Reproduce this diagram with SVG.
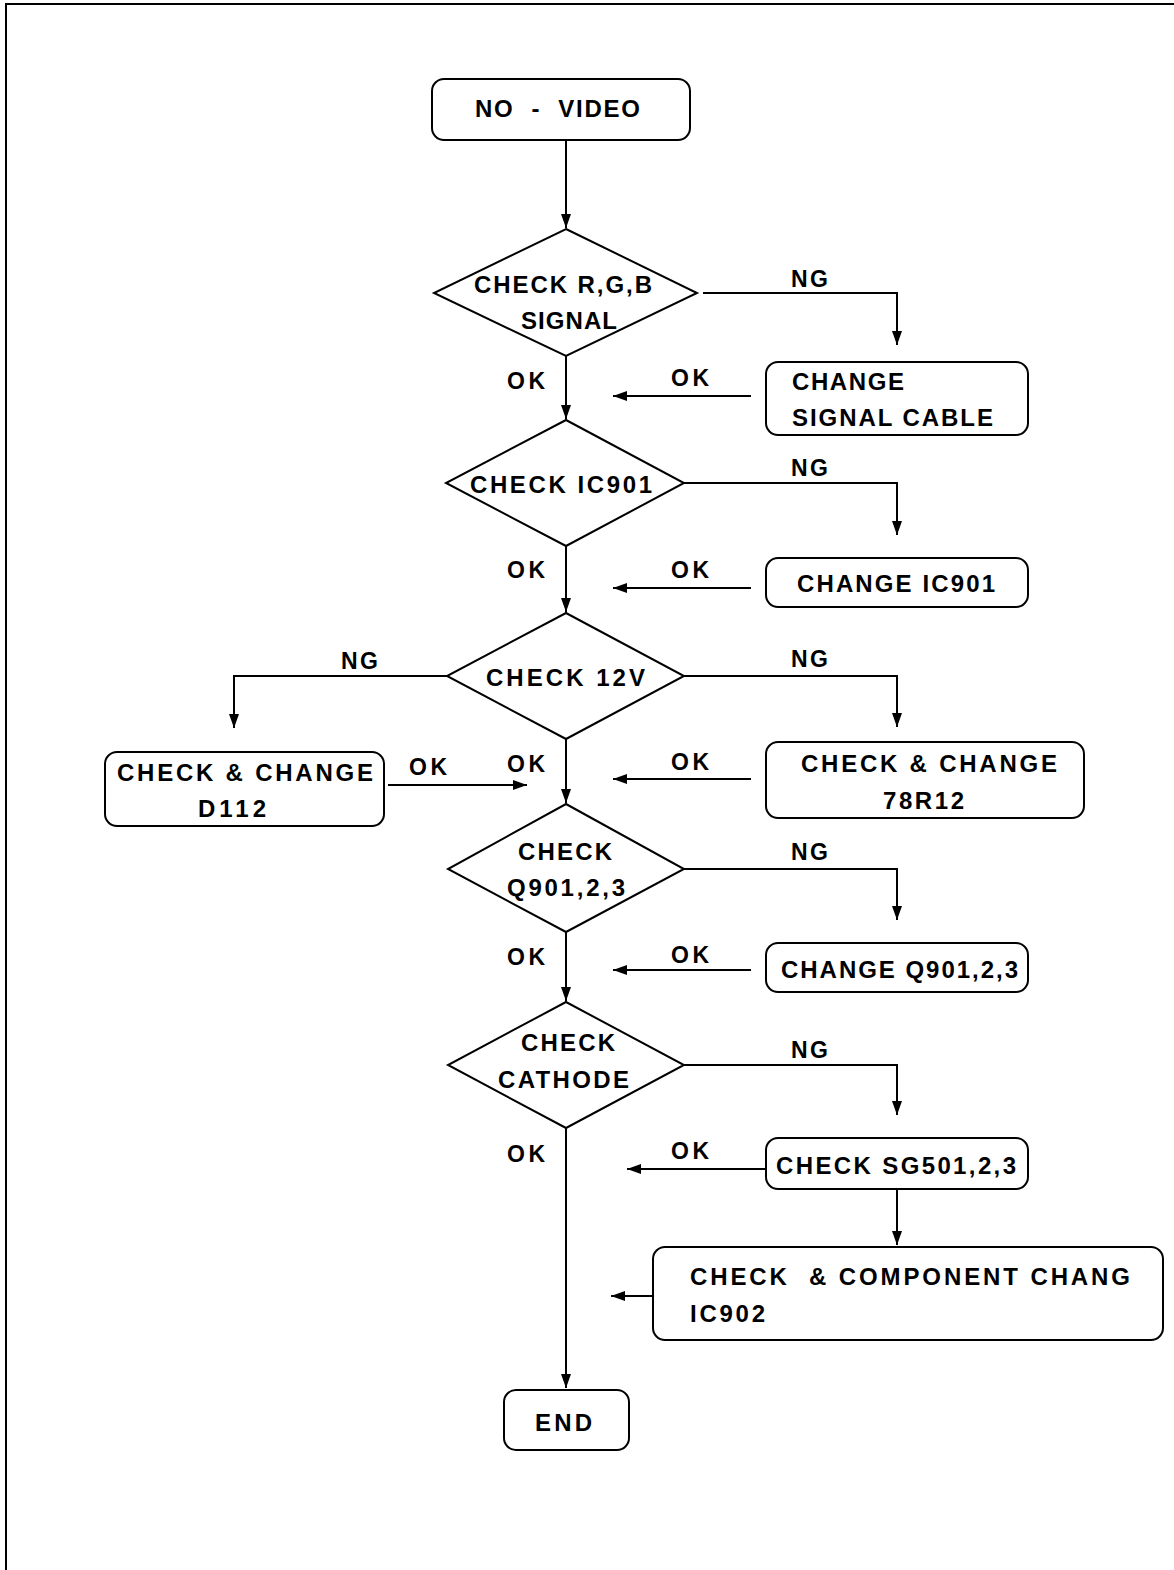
<svg xmlns="http://www.w3.org/2000/svg" width="1174" height="1570" viewBox="0 0 1174 1570">
<defs>
<marker id="ah" viewBox="0 0 14 10" refX="14" refY="5" markerWidth="14" markerHeight="10" markerUnits="userSpaceOnUse" orient="auto">
<path d="M0,0 L14,5 L0,10 Z" fill="#000"/>
</marker>
</defs>
<style>
.n{fill:#fff;stroke:#000;stroke-width:2}
.c{fill:none;stroke:#000;stroke-width:2}
.a{marker-end:url(#ah)}
text{font-family:"Liberation Sans",Arial,sans-serif;font-weight:bold;font-size:24px;fill:#000}
.l{font-size:23px}
</style>
<rect width="1174" height="1570" fill="#fff"/>
<path d="M6,1570 V4 H1174" fill="none" stroke="#000" stroke-width="2"/>
<g id="connectors">
<path class="c a" d="M566,140 V228"/>
<path class="c a" d="M703,293 H897 V345"/>
<path class="c a" d="M751,396 H613"/>
<path class="c a" d="M566,356 V419"/>
<path class="c a" d="M684,483 H897 V535"/>
<path class="c a" d="M751,588 H613"/>
<path class="c a" d="M566,546 V612"/>
<path class="c a" d="M684,676 H897 V727"/>
<path class="c a" d="M447,676 H234 V728"/>
<path class="c a" d="M388,785 H527"/>
<path class="c a" d="M751,779 H613"/>
<path class="c a" d="M566,739 V803"/>
<path class="c a" d="M684,869 H897 V920"/>
<path class="c a" d="M751,970 H613"/>
<path class="c a" d="M566,932 V1001"/>
<path class="c a" d="M684,1065 H897 V1115"/>
<path class="c a" d="M766,1169 H627"/>
<path class="c a" d="M897,1189 V1245"/>
<path class="c a" d="M653,1296 H611"/>
<path class="c a" d="M566,1128 V1388"/>
<text class="l" x="791" y="287" textLength="37">NG</text>
<text class="l" x="507" y="389" textLength="38">OK</text>
<text class="l" x="671" y="386" textLength="38">OK</text>
<text class="l" x="791" y="476" textLength="37">NG</text>
<text class="l" x="507" y="578" textLength="38">OK</text>
<text class="l" x="671" y="578" textLength="38">OK</text>
<text class="l" x="791" y="667" textLength="37">NG</text>
<text class="l" x="341" y="669" textLength="37">NG</text>
<text class="l" x="409" y="775" textLength="38">OK</text>
<text class="l" x="507" y="772" textLength="38">OK</text>
<text class="l" x="671" y="770" textLength="38">OK</text>
<text class="l" x="791" y="860" textLength="37">NG</text>
<text class="l" x="507" y="965" textLength="38">OK</text>
<text class="l" x="671" y="963" textLength="38">OK</text>
<text class="l" x="791" y="1058" textLength="37">NG</text>
<text class="l" x="507" y="1162" textLength="38">OK</text>
<text class="l" x="671" y="1159" textLength="38">OK</text>
</g>
<g id="start">
<rect class="n" x="432" y="79" width="258" height="61" rx="12"/>
<text x="475" y="117" textLength="165" xml:space="preserve">NO  -  VIDEO</text>
</g>
<g id="d1">
<path class="n" d="M566,229 L697,293 L566,356 L434,293 Z"/>
<text x="474" y="293" textLength="178">CHECK R,G,B</text>
<text x="521" y="329" textLength="96">SIGNAL</text>
</g>
<g id="b1">
<rect class="n" x="766" y="362" width="262" height="73" rx="12"/>
<text x="792" y="390" textLength="112">CHANGE</text>
<text x="792" y="426" textLength="201">SIGNAL CABLE</text>
</g>
<g id="d2">
<path class="n" d="M566,420 L684,483 L566,546 L446,483 Z"/>
<text x="470" y="493" textLength="182">CHECK IC901</text>
</g>
<g id="b2">
<rect class="n" x="766" y="558" width="262" height="49" rx="12"/>
<text x="797" y="592" textLength="198">CHANGE IC901</text>
</g>
<g id="d3">
<path class="n" d="M566,613 L684,676 L566,739 L447,676 Z"/>
<text x="486" y="686" textLength="159">CHECK 12V</text>
</g>
<g id="b3l">
<rect class="n" x="105" y="752" width="279" height="74" rx="12"/>
<text x="117" y="781" textLength="256">CHECK &amp; CHANGE</text>
<text x="198" y="817" textLength="68">D112</text>
</g>
<g id="b3r">
<rect class="n" x="766" y="742" width="318" height="76" rx="12"/>
<text x="801" y="772" textLength="256">CHECK &amp; CHANGE</text>
<text x="883" y="809" textLength="81">78R12</text>
</g>
<g id="d4">
<path class="n" d="M566,804 L684,869 L566,932 L448,869 Z"/>
<text x="518" y="860" textLength="94">CHECK</text>
<text x="507" y="896" textLength="118">Q901,2,3</text>
</g>
<g id="b4">
<rect class="n" x="766" y="943" width="262" height="49" rx="12"/>
<text x="781" y="978" textLength="237">CHANGE Q901,2,3</text>
</g>
<g id="d5">
<path class="n" d="M566,1002 L684,1065 L566,1128 L448,1065 Z"/>
<text x="521" y="1051" textLength="94">CHECK</text>
<text x="498" y="1088" textLength="131">CATHODE</text>
</g>
<g id="b5">
<rect class="n" x="766" y="1138" width="262" height="51" rx="12"/>
<text x="776" y="1174" textLength="240">CHECK SG501,2,3</text>
</g>
<g id="b6">
<rect class="n" x="653" y="1247" width="510" height="93" rx="12"/>
<text x="690" y="1285" textLength="440" xml:space="preserve">CHECK  &amp; COMPONENT CHANG</text>
<text x="690" y="1322" textLength="75">IC902</text>
</g>
<g id="end">
<rect class="n" x="504" y="1390" width="125" height="60" rx="12"/>
<text x="535" y="1431" textLength="57">END</text>
</g>
</svg>
